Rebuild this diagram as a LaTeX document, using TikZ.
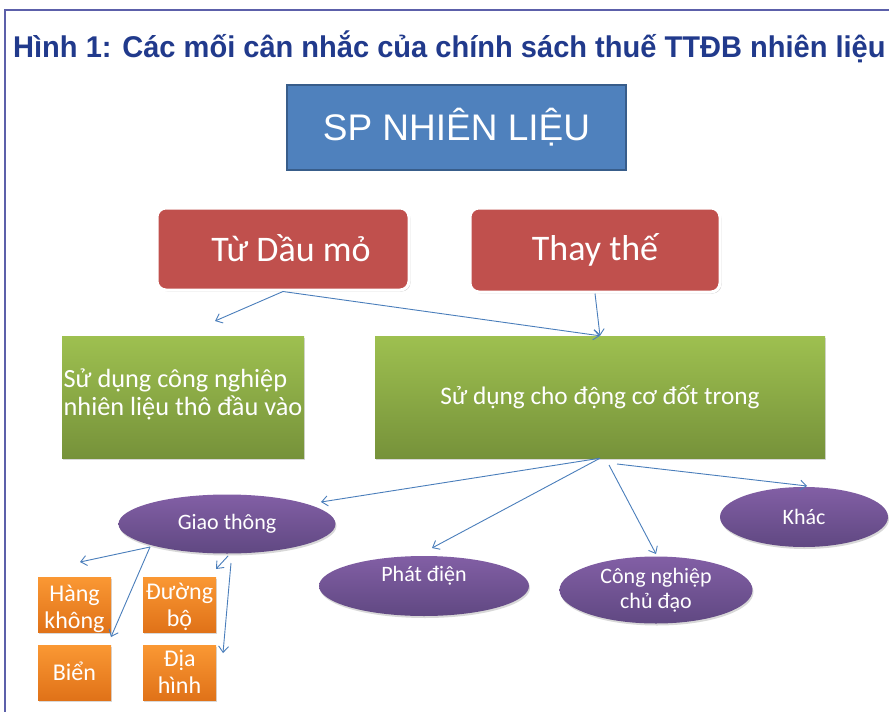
\documentclass[tikz,border=0pt]{standalone}
\usepackage{fontspec}
\setmainfont{Carlito}
\newfontfamily\arialfont{Liberation Sans}
\usetikzlibrary{arrows.meta,shadows,calc,shapes.geometric}
\definecolor{titleblue}{RGB}{33,58,140}
\definecolor{framecol}{RGB}{92,96,170}
\definecolor{spblue}{RGB}{79,129,189}
\definecolor{spborder}{RGB}{56,93,138}
\definecolor{redbox}{RGB}{192,80,77}
\definecolor{greentop}{RGB}{158,192,80}
\definecolor{greenbot}{RGB}{118,146,58}
\definecolor{purptop}{RGB}{130,95,165}
\definecolor{purpbot}{RGB}{96,72,130}
\definecolor{orangetop}{RGB}{250,152,52}
\definecolor{orangebot}{RGB}{224,114,24}
\definecolor{arrowcol}{RGB}{74,126,187}
\newcommand{\twolines}[2]{\begin{tabular}{@{}c@{}}#1\\#2\end{tabular}}
\tikzset{
  frameline/.style={draw=framecol, line width=2pt},
  spbox/.style={rectangle, fill=spblue, draw=spborder, line width=1.5pt, text=white,
    font=\arialfont\fontsize{37}{40}\selectfont, inner sep=0pt},
  redbox/.style={rectangle, rounded corners=9pt, fill=redbox, draw=white, line width=3pt,
    text=white, font=\fontsize{36}{40}\selectfont, inner sep=0pt,
    drop shadow={shadow xshift=1.5pt, shadow yshift=-1.5pt, opacity=0.35}},
  greenbox/.style={rectangle, top color=greentop, bottom color=greenbot, text=white,
    align=center, inner sep=0pt,
    drop shadow={shadow xshift=1pt, shadow yshift=-2pt, opacity=0.3}},
  purpell/.style={ellipse, top color=purptop, bottom color=purpbot, text=white,
    font=\fontsize{22}{25}\selectfont, align=center, inner sep=0pt,
    drop shadow={shadow xshift=1pt, shadow yshift=-2pt, opacity=0.3}},
  orbox/.style={rectangle, top color=orangetop, bottom color=orangebot, text=white,
    font=\fontsize{24}{27}\selectfont, inner sep=0pt,
    minimum width=73pt, minimum height=55pt,
    drop shadow={shadow xshift=1pt, shadow yshift=-2pt, opacity=0.3}},
  conn/.style={draw=arrowcol, line width=0.9pt, -{Straight Barb[length=6pt,width=10pt]}},
}
\begin{document}
\begin{tikzpicture}[x=1pt,y=-1pt]
\useasboundingbox (0,0) rectangle (889,712);
\fill[white] (0,0) rectangle (889,712);
\draw[frameline] (5,712) -- (5,10) -- (889,10);

\node[anchor=base west, inner sep=0pt, text=titleblue,
  font=\arialfont\bfseries\fontsize{30}{36}\selectfont] (title) at (13,57)
  {\scalebox{0.968}[1]{Hình 1: Các mối cân nhắc của chính sách thuế TTĐB nhiên liệu}};

\node[spbox, minimum width=339pt, minimum height=85pt] (sp) at (456.5,127.5)
  {\raisebox{3pt}{SP NHIÊN LIỆU}};

\node[redbox, minimum width=252pt, minimum height=82pt] (tu) at (283,249)
  {\hspace*{16pt}\raisebox{3pt}{Từ Dầu mỏ}};
\node[redbox, minimum width=250pt, minimum height=84pt] (thay) at (595,250)
  {\raisebox{2pt}{Thay thế}};

\node[greenbox, font=\fontsize{26.3}{28}\selectfont, minimum width=242pt, minimum height=122pt] (sdcn) at (183,397)
  {\raisebox{-5pt}[0pt][0pt]{\begin{tabular}{@{}l@{}}Sử dụng công nghiệp\\nhiên liệu thô đầu vào\end{tabular}}};
\node[greenbox, font=\fontsize{25.3}{28}\selectfont, minimum width=450pt, minimum height=122pt] (cho) at (600,397)
  {\raisebox{3pt}{Sử dụng cho động cơ đốt trong}};

\node[purpell, minimum width=217pt, minimum height=59pt] (giao) at (227,524) {Giao thông};
\node[purpell, minimum width=210pt, minimum height=60pt] (phat) at (424,586)
  {\raisebox{25pt}{Phát điện}};
\node[purpell, minimum width=193pt, minimum height=67pt] (cong) at (656,590)
  {Công nghiệp\\chủ đạo};
\node[purpell, minimum width=168pt, minimum height=60pt] (khac) at (804,517) {Khác};

\node[orbox] (hang) at (74.5,604.5) {\raisebox{-11.5pt}[0pt][0pt]{\twolines{Hàng}{không}}};
\node[orbox] (duong) at (179.5,604.5) {\raisebox{-9.5pt}[0pt][0pt]{\twolines{Đường}{bộ}}};
\node[orbox] (bien) at (74.5,672.5) {\raisebox{2pt}{Biển}};
\node[orbox] (dia) at (179.5,672.5) {\raisebox{-8.5pt}[0pt][0pt]{\twolines{Địa}{hình}}};

\coordinate (e1) at (215,321);
\coordinate (e4) at (321,502);
\coordinate (e5) at (432,548);
\coordinate (s6) at (609,465);
\coordinate (e6) at (656,554);
\coordinate (s7) at (617,464);
\coordinate (e7) at (807,486);
\coordinate (s8) at (150,547);
\coordinate (e8) at (80,562);
\coordinate (e9) at (111,637);
\coordinate (s10) at (228,556);
\coordinate (e10) at (216,569);
\coordinate (s11) at (231,563);
\coordinate (e11) at (223,653);

\draw[conn] (tu.south) -- (e1);
\draw[conn] (tu.south) -- (cho.north);
\draw[conn] (thay.south) -- (cho.north);
\draw[conn] (cho.south) -- (e4);
\draw[conn] (cho.south) -- (e5);
\draw[conn] (s6) -- (e6);
\draw[conn] (s7) -- (e7);
\draw[conn] (s8) -- (e8);
\draw[conn] (s8) -- (e9);
\draw[conn] (s10) -- (e10);
\draw[conn] (s11) -- (e11);
\end{tikzpicture}
\end{document}
